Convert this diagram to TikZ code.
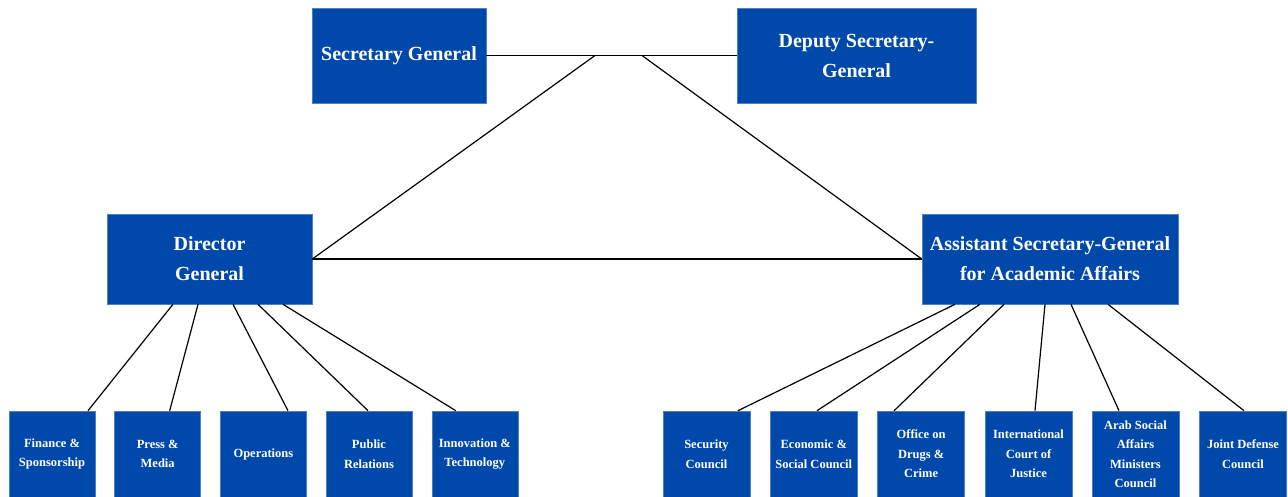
\documentclass[tikz,border=0pt]{standalone}
\usepackage{fontspec}
\setmainfont{Liberation Serif}
\definecolor{boxblue}{RGB}{0,73,170}
\begin{document}
\begin{tikzpicture}[x=1pt,y=-1pt,
  bigbox/.style={rectangle, fill=boxblue, draw=boxblue!70!white, line width=0.6pt, text=white, align=center, inner sep=0pt,
     font=\bfseries\fontsize{20}{30}\selectfont},
  smallbox/.style={rectangle, fill=boxblue, draw=boxblue!70!white, line width=0.6pt, text=white, align=center, inner sep=0pt,
     minimum width=86pt, minimum height=86pt, font=\bfseries\fontsize{12.5}{19.5}\selectfont},
  conn/.style={draw=black, line width=1.2pt}]
\useasboundingbox (0,0) rectangle (1288,497);
% top level
\node[bigbox, minimum width=174pt, minimum height=95pt] (sg) at (399,55.5) {Secretary General};
\node[bigbox, minimum width=239pt, minimum height=95pt] (dsg) at (856.5,55.5) {Deputy Secretary-\\General};
\node[bigbox, minimum width=205pt, minimum height=90pt] (dg) at (209.5,259) {Director\\General};
\node[bigbox, minimum width=256pt, minimum height=90pt] (asg) at (1050,259) {Assistant Secretary-General\\for Academic Affairs};
% left children
\node[smallbox] (f1) at (52,454) {Finance \&\\Sponsorship};
\node[smallbox] (f2) at (157.7,454) {Press \&\\Media};
\node[smallbox] (f3) at (263.4,454) {Operations};
\node[smallbox] (f4) at (369,454) {Public\\Relations};
\node[smallbox] (f5) at (474.8,454) {Innovation \&\\Technology};
% right children
\node[smallbox, minimum width=87pt] (r1) at (706.5,454) {Security\\Council};
\node[smallbox, minimum width=87pt] (r2) at (813.8,454) {Economic \&\\Social Council};
\node[smallbox, minimum width=87pt] (r3) at (921.1,454) {Office on\\Drugs \&\\Crime};
\node[smallbox, minimum width=87pt] (r4) at (1028.5,454) {International\\Court of\\Justice};
\node[smallbox, minimum width=87pt] (r5) at (1135.5,454) {Arab Social\\Affairs\\Ministers\\Council};
\node[smallbox, minimum width=87pt] (r6) at (1243,454) {Joint Defense\\Council};
% junctions
\coordinate (j1) at (595,55.5);
\coordinate (j2) at (642,55.5);
% top connectors
\draw[conn] (sg.east) -- (dsg.west);
\draw[conn] (j1) -- (dg.east);
\draw[conn] (j2) -- (asg.west);
\draw[conn] (dg.east) -- (asg.west);
% left connectors
\draw[conn] ([xshift=-36.5pt]dg.south) -- ([xshift=36pt]f1.north);
\draw[conn] ([xshift=-11.5pt]dg.south) -- ([xshift=12pt]f2.north);
\draw[conn] ([xshift=23.5pt]dg.south) -- ([xshift=24.6pt]f3.north);
\draw[conn] ([xshift=48.5pt]dg.south) -- ([xshift=-1pt]f4.north);
\draw[conn] ([xshift=73.5pt]dg.south) -- ([xshift=-19pt]f5.north);
% right connectors
\draw[conn] ([xshift=-95pt]asg.south) -- ([xshift=31.5pt]r1.north);
\draw[conn] ([xshift=-70pt]asg.south) -- ([xshift=3.2pt]r2.north);
\draw[conn] ([xshift=-46pt]asg.south) -- ([xshift=-27pt]r3.north);
\draw[conn] ([xshift=-5pt]asg.south) -- ([xshift=6.5pt]r4.north);
\draw[conn] ([xshift=21pt]asg.south) -- ([xshift=-16.5pt]r5.north);
\draw[conn] ([xshift=58pt]asg.south) -- ([xshift=1pt]r6.north);
\end{tikzpicture}
\end{document}
